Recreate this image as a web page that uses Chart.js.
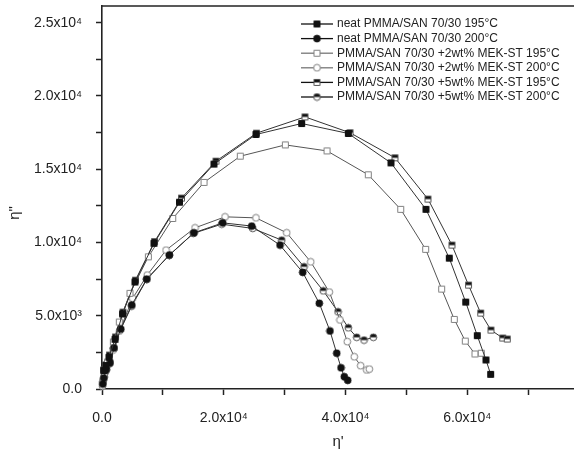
<!DOCTYPE html>
<html><head><meta charset="utf-8">
<script src="https://cdn.jsdelivr.net/npm/chart.js@4/dist/chart.umd.min.js"></script>
<style>html,body{margin:0;padding:0;background:#fff;}</style>
</head><body>
<canvas id="c" width="574" height="461"></canvas>
<script>
// ---- data ----
const seriesNames = [
  'neat PMMA/SAN 70/30 195°C',
  'neat PMMA/SAN 70/30 200°C',
  'PMMA/SAN 70/30 +2wt% MEK-ST 195°C',
  'PMMA/SAN 70/30 +2wt% MEK-ST 200°C',
  'PMMA/SAN 70/30 +5wt% MEK-ST 195°C',
  'PMMA/SAN 70/30 +5wt% MEK-ST 200°C'
];
const neat195X = [300, 650, 1150, 2140, 3370, 5420, 8540, 12730, 18400, 25300, 32800, 40470, 47480, 53230, 57060, 59760, 61660, 63090, 63860];
const neat195Y = [1250, 1600, 2160, 3390, 5120, 7300, 9940, 12750, 15350, 17370, 18120, 17440, 15430, 12260, 8930, 5930, 3640, 1980, 1000];
const neat200X = [130, 300, 660, 1310, 1970, 3070, 4880, 7340, 11060, 15120, 19830, 24600, 29250, 32980, 35700, 37460, 38560, 39270, 39810, 40370];
const neat200Y = [340, 750, 1300, 1770, 2800, 4090, 5730, 7500, 9140, 10660, 11340, 11120, 9820, 7960, 5850, 3960, 2440, 1450, 840, 590];
const mek2_195X = [160, 410, 900, 1860, 2840, 4600, 7610, 11620, 16760, 22720, 30120, 36970, 43750, 49080, 53180, 55810, 57880, 59690, 61280, 62320];
const mek2_195Y = [480, 960, 1840, 3210, 4570, 6530, 9020, 11640, 14100, 15890, 16660, 16250, 14620, 12260, 9530, 6820, 4750, 3270, 2390, 2440];
const mek2_200X = [80, 250, 580, 1150, 1810, 2880, 5040, 7440, 10520, 15280, 20210, 25300, 30350, 34290, 37350, 39100, 40300, 41450, 42500, 43490, 43920];
const mek2_200Y = [200, 610, 1160, 1710, 2660, 3960, 6190, 7780, 9480, 11000, 11750, 11680, 10660, 8680, 6620, 4710, 3230, 2200, 1590, 1300, 1360];
const mek5_195X = [250, 600, 1230, 2220, 3450, 5500, 8630, 13060, 18730, 25380, 33350, 40750, 48140, 53560, 57500, 60220, 62220, 63910, 65840, 66590];
const mek5_195Y = [1300, 1650, 2320, 3550, 5250, 7430, 10060, 13030, 15550, 17460, 18570, 17490, 15780, 12960, 9820, 7090, 5180, 4020, 3480, 3410];
const mek5_200X = [160, 330, 740, 1310, 1970, 3070, 4880, 7390, 11060, 15000, 19670, 24760, 29530, 33190, 36360, 38780, 40470, 41850, 43050, 44580];
const mek5_200Y = [480, 820, 1360, 1840, 2780, 4070, 5660, 7500, 9140, 10620, 11250, 10960, 10160, 8340, 6700, 5270, 4180, 3530, 3340, 3530];

const xTickValues = [0, 10000, 20000, 30000, 40000, 50000, 60000, 70000];
const xTickLabels = ['0.0', '', '2.0x10⁴', '', '4.0x10⁴', '', '6.0x10⁴', ''];
const yTickValues = [0, 2500, 5000, 7500, 10000, 12500, 15000, 17500, 20000, 22500, 25000];
const yTickLabels = ['0.0', '', '5.0x10³', '', '1.0x10⁴', '', '1.5x10⁴', '', '2.0x10⁴', '', '2.5x10⁴'];
const xTitle = "η'";
const yTitle = 'η"';

// ---- markers ----
function marker(shape, mode) {
  const s = 9;
  const c = document.createElement('canvas');
  c.width = s; c.height = s;
  const g = c.getContext('2d');
  const dark = '#111', grey = '#808080';
  g.lineWidth = 1;
  const path = () => { g.beginPath(); if (shape === 'square') g.rect(1.5, 1.5, 6, 6); else g.arc(4.5, 4.5, 3.4, 0, Math.PI * 2); };
  if (mode === 'filled') { path(); g.fillStyle = dark; g.fill(); g.strokeStyle = dark; g.stroke(); }
  else if (mode === 'open') { path(); g.fillStyle = '#fff'; g.fill(); g.strokeStyle = grey; g.stroke(); }
  else {
    path(); g.fillStyle = '#fff'; g.fill();
    g.save(); g.beginPath(); g.rect(0, 0, s, 4.5); g.clip(); path(); g.fillStyle = dark; g.fill(); g.restore();
    path(); g.strokeStyle = '#555'; g.stroke();
  }
  return c;
}
const seriesX = [neat195X, neat200X, mek2_195X, mek2_200X, mek5_195X, mek5_200X];
const seriesY = [neat195Y, neat200Y, mek2_195Y, mek2_200Y, mek5_195Y, mek5_200Y];
const markerDefs = [['square','filled'],['circle','filled'],['square','open'],['circle','open'],['square','half'],['circle','half']];
const lineColors = ['#333', '#333', '#555', '#555', '#333', '#333'];
const legendLineColors = ['#111', '#111', '#777', '#777', '#111', '#111'];

const datasets = seriesNames.map((name, i) => ({
  label: name,
  data: seriesX[i].map((x, j) => ({ x: x, y: seriesY[i][j] })),
  showLine: true,
  borderColor: lineColors[i],
  borderWidth: 1,
  tension: 0,
  fill: false,
  clip: false,
  pointStyle: marker(markerDefs[i][0], markerDefs[i][1]),
  pointRadius: 4,
  pointHoverRadius: 4,
  legendLineColor: legendLineColors[i]
}));

const FONT = '"Liberation Sans", Arial, Helvetica, sans-serif';
Chart.defaults.font.family = FONT;

const framePlugin = {
  id: 'frame',
  afterDraw(chart) {
    const ctx = chart.ctx, a = chart.chartArea;
    ctx.save();
    ctx.strokeStyle = '#222'; ctx.lineWidth = 1.6;
    ctx.beginPath(); ctx.moveTo(a.left, a.top); ctx.lineTo(a.right, a.top); ctx.stroke();
    // y axis title
    ctx.save();
    ctx.translate(15, 213);
    ctx.rotate(-Math.PI / 2);
    ctx.font = '15px ' + FONT;
    ctx.fillStyle = '#222';
    ctx.textAlign = 'center';
    ctx.textBaseline = 'middle';
    ctx.fillText(yTitle, 0, 0);
    ctx.restore();
    // legend
    ctx.font = '12px ' + FONT;
    ctx.textBaseline = 'middle';
    ctx.textAlign = 'left';
    chart.data.datasets.forEach((ds, i) => {
      const y = 24 + i * 14.6;
      ctx.strokeStyle = ds.legendLineColor; ctx.lineWidth = 1.3;
      ctx.beginPath(); ctx.moveTo(301, y); ctx.lineTo(333, y); ctx.stroke();
      ctx.drawImage(ds.pointStyle, 317 - 4.5, y - 4.5);
      ctx.fillStyle = '#222';
      ctx.fillText(ds.label, 337, y);
    });
    ctx.restore();
  }
};

new Chart(document.getElementById('c'), {
  type: 'scatter',
  data: { datasets },
  options: {
    responsive: false,
    animation: false,
    devicePixelRatio: 1,
    layout: { autoPadding: false, padding: { top: 6, right: 0, bottom: 0, left: 0 } },
    plugins: { legend: { display: false }, tooltip: { enabled: false } },
    scales: {
      x: {
        type: 'linear', position: 'bottom', min: 0, max: 77550,
        afterBuildTicks: s => { s.ticks = xTickValues.map(v => ({ value: v })); },
        afterFit: s => { s.height = 72; s.paddingLeft = 0; s.paddingRight = 0; },
        ticks: {
          autoSkip: false, maxRotation: 0, padding: 15, color: '#222',
          font: { size: 14, family: FONT },
          callback: v => { const i = xTickValues.indexOf(v); return i >= 0 ? xTickLabels[i] : ''; }
        },
        grid: { drawOnChartArea: false, drawTicks: true, tickLength: 6, tickWidth: 1.5, tickColor: '#222' },
        border: { display: true, color: '#222', width: 1.6 },
        title: { display: true, text: xTitle, color: '#222', font: { size: 15, family: FONT }, padding: { top: 0, bottom: 10 } }
      },
      y: {
        type: 'linear', position: 'left', min: 0, max: 26140,
        afterBuildTicks: s => { s.ticks = yTickValues.map(v => ({ value: v })); },
        afterFit: s => { s.width = 102; s.paddingTop = 0; s.paddingBottom = 0; },
        ticks: {
          autoSkip: false, padding: 14, color: '#222',
          font: { size: 14, family: FONT },
          callback: v => { const i = yTickValues.indexOf(v); return i >= 0 ? yTickLabels[i] : ''; }
        },
        grid: { drawOnChartArea: false, drawTicks: true, tickLength: 6, tickWidth: 1.5, tickColor: '#222' },
        border: { display: true, color: '#222', width: 1.6 }
      }
    }
  },
  plugins: [framePlugin]
});
</script>
</body></html>
